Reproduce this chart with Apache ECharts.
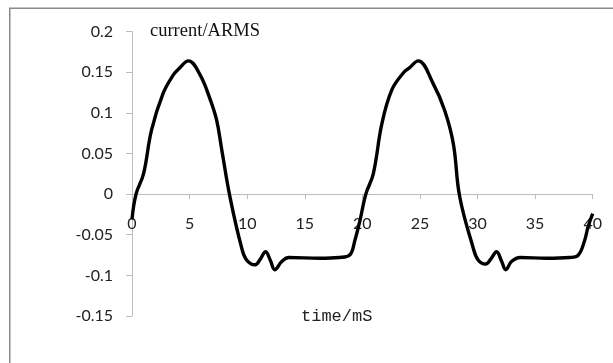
<!DOCTYPE html>
<html>
<head>
<meta charset="utf-8">
<script src="https://cdn.jsdelivr.net/npm/echarts@6/dist/echarts.min.js"></script>
<style>
  html, body { margin: 0; padding: 0; background: #fff; }
  #chart { width: 613px; height: 363px; }
</style>
</head>
<body>
<div id="chart"></div>
<script>
// Sampled current waveform over two mains cycles
const timeMs = [0, 0.35, 1.0, 1.7, 2.7, 3.6, 4.05, 4.9, 5.9, 6.8, 7.35, 7.8, 8.5, 9.5, 9.95,
  10.7, 11.1, 11.6, 12.0, 12.4, 13.0, 13.6, 16.3, 18.0, 18.9, 19.35, 19.8, 20.3, 20.95, 21.7,
  22.55, 23.55, 24.05, 24.85, 26.15, 27.15, 27.9, 28.45, 29.6, 30.05, 30.7, 31.2, 31.65,
  32.1, 32.45, 32.95, 33.7, 36.0, 38.0, 38.75, 39.3, 39.6, 40.0];
const currentA = [-0.031, 0.0, 0.025, 0.079, 0.124, 0.147, 0.154, 0.164, 0.147, 0.116, 0.091,
  0.054, -0.003, -0.065, -0.081, -0.087, -0.081, -0.071, -0.081, -0.093, -0.083, -0.078,
  -0.079, -0.078, -0.075, -0.057, -0.032, 0.0, 0.025, 0.087, 0.128, 0.149, 0.155, 0.164,
  0.136, 0.103, 0.062, -0.003, -0.065, -0.081, -0.086, -0.079, -0.071, -0.083, -0.093,
  -0.083, -0.078, -0.079, -0.078, -0.075, -0.057, -0.040, -0.024];

const xTicks = { min: 0, max: 40, step: 5 };
const yTicks = { min: -0.15, max: 0.2, step: 0.05 };
const yTitle = 'current/ARMS';
const xTitle = 'time/mS';

const gridBox = { left: 132, right: 20.3, top: 31.6, bottom: 47 };
const plotHeight = 363 - gridBox.top - gridBox.bottom;
// lift the time axis from the bottom edge up to the zero line of the current axis
const zeroLift = -plotHeight * (0 - yTicks.min) / (yTicks.max - yTicks.min);

const chart = echarts.init(document.getElementById('chart'), null, { renderer: 'canvas' });

const points = timeMs.map((t, i) => [t, currentA[i]]);
const axisGrey = '#bdbdbd';
const labelFont = { fontFamily: 'Lato', fontSize: 16, color: '#222' };

chart.setOption({
  animation: false,
  backgroundColor: '#fff',
  grid: Object.assign({ containLabel: false }, gridBox),
  xAxis: {
    type: 'value',
    position: 'bottom',
    offset: zeroLift,
    min: xTicks.min, max: xTicks.max, interval: xTicks.step,
    axisLine: { onZero: false, lineStyle: { color: axisGrey, width: 1 } },
    axisTick: { show: true, inside: false, length: 5, lineStyle: { color: axisGrey } },
    axisLabel: Object.assign({ margin: 22 }, labelFont),
    splitLine: { show: false }
  },
  yAxis: {
    type: 'value',
    min: yTicks.min, max: yTicks.max, interval: yTicks.step,
    axisLine: { show: true, onZero: false, lineStyle: { color: axisGrey, width: 1 } },
    axisTick: { show: true, inside: false, length: 6, lineStyle: { color: axisGrey } },
    axisLabel: Object.assign({
      margin: 19,
      formatter: v => String(Number(v.toFixed(2)))
    }, labelFont),
    splitLine: { show: false }
  },
  series: [{
    type: 'line',
    data: points,
    smooth: 0.4,
    showSymbol: false,
    lineStyle: { color: '#000', width: 3.4 },
    z: 5
  }],
  graphic: [
    {
      type: 'rect',
      shape: { x: 9.75, y: 8.25, width: 700, height: 500 },
      style: { fill: 'none', stroke: '#8a8a8a', lineWidth: 1.5 },
      silent: true
    },
    {
      type: 'text',
      left: 150, top: 22,
      style: { text: yTitle, font: '18.5px "Liberation Serif"', fill: '#111' }
    },
    {
      type: 'text',
      left: 301, top: 308,
      style: { text: xTitle, font: '17px "Liberation Mono"', fill: '#222' }
    }
  ]
});
</script>
</body>
</html>
